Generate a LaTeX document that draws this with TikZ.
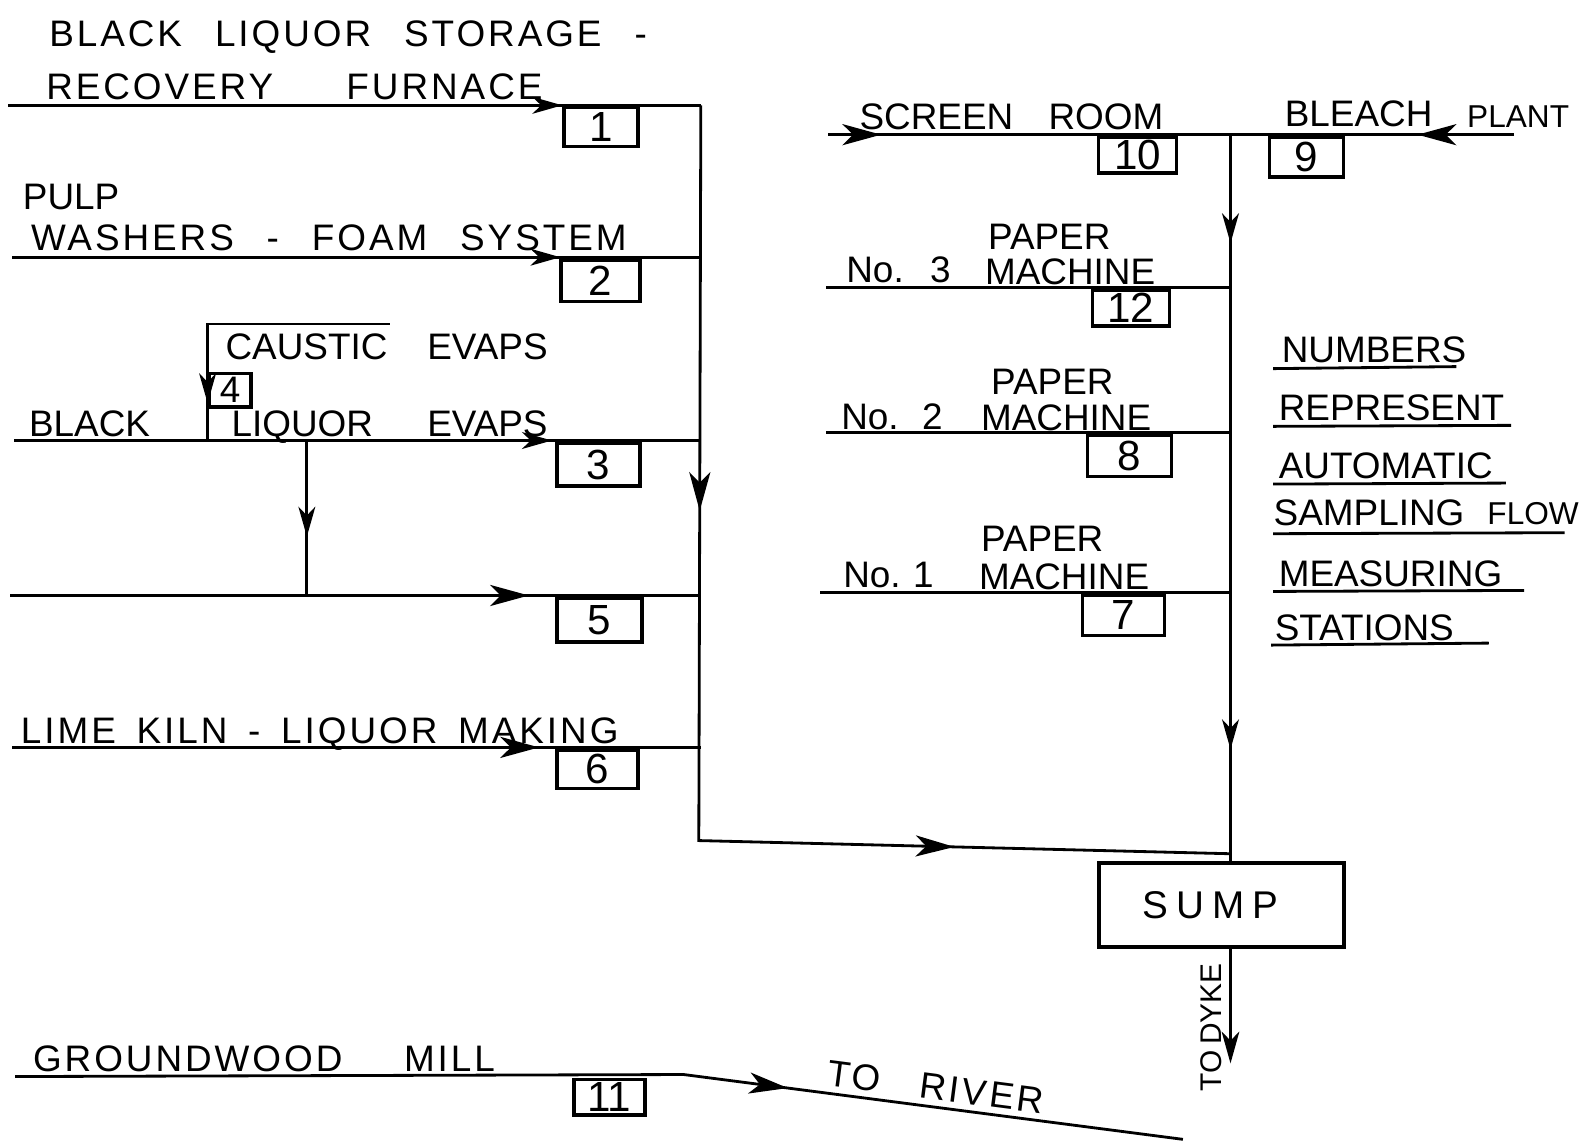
\documentclass[tikz,border=0pt]{standalone}
\usepackage{fontspec}
\setmainfont{Liberation Sans}
\usetikzlibrary{arrows.meta,decorations.markings}
\newlength\pxu
\setlength\pxu{0.010128cm}
\newcommand\wide{\addfontfeature{LetterSpace=8}}
\tikzset{
  flow/.style={line width=0.8pt},
  numbox/.style 2 args={draw, line width=1pt, anchor=north west, inner sep=0pt,
    minimum width=#1*\pxu, minimum height=#2*\pxu, font=\fontsize{12}{12}\selectfont},
  lbl/.style={anchor=base west, inner sep=0pt, font=\fontsize{10.5}{12}\selectfont},
  slbl/.style={anchor=base west, inner sep=0pt, font=\fontsize{9}{10}\selectfont},
  uline/.style={line width=0.8pt},
  ma/.style={postaction={decorate,decoration={markings,mark=at position #1 with {\arrow{Stealth[length=8.5pt,width=4.8pt,inset=2.5pt]}}}}},
  MA/.style={postaction={decorate,decoration={markings,mark=at position #1 with {\arrow{Stealth[length=11pt,width=6pt,inset=3pt]}}}}},
}
\begin{document}
\begin{tikzpicture}[x=0.010128cm, y=-0.010128cm]
\useasboundingbox (0,0) rectangle (1568,1131);

% ---------- coordinates ----------
\coordinate (a1) at (8,104);   \coordinate (j1) at (692,104);
\coordinate (a2) at (12,254);  \coordinate (j2) at (692,254);
\coordinate (a3) at (14,435);  \coordinate (j3) at (692,435);
\coordinate (a5) at (10,588);  \coordinate (j5) at (692,588);
\coordinate (a6) at (12,738);  \coordinate (j6) at (692,738);
\coordinate (c0) at (385,320); \coordinate (c1) at (205,320); \coordinate (c2) at (205,435);
\coordinate (v0) at (303,435); \coordinate (v1) at (303,588);
\coordinate (lb) at (690,830); \coordinate (rb) at (1215,843);
\coordinate (rt) at (1215,133); \coordinate (rs) at (1215,852);
\coordinate (sr) at (818,133); \coordinate (bp) at (1495,133);
\coordinate (m3a) at (816,284); \coordinate (m3b) at (1215,284);
\coordinate (m2a) at (816,427); \coordinate (m2b) at (1215,427);
\coordinate (m1a) at (810,585); \coordinate (m1b) at (1215,585);
\coordinate (g0) at (15,1063); \coordinate (g1) at (675,1061); \coordinate (g2) at (1168,1125);
\coordinate (dyke) at (1215,1050);

% ---------- sampling boxes ----------
\node (b1)  [numbox={73}{39}] at (555,104) {1};
\node (b2)  [numbox={78}{41}] at (552,255) {2};
\node (b3)  [numbox={82}{42}] at (548,436) {3};
\node (b4)  [numbox={41}{33}, font=\fontsize{10.5}{10.5}\selectfont] at (205,367) {4};
\node (b5)  [numbox={84}{43}] at (548,589) {5};
\node (b6)  [numbox={80}{38}] at (548,739) {6};
\node (b7)  [numbox={81}{40}] at (1067,586) {7};
\node (b8)  [numbox={83}{41}] at (1072,428) {8};
\node (b9)  [numbox={73}{39}] at (1252,134) {9};
\node (b10) [numbox={77}{35}] at (1083,134) {10};
\node (b11) [numbox={70}{35}] at (565,1064) {11};
\node (b12) [numbox={76}{35}] at (1077,285) {12};

% ---------- sump ----------
\node (sump) [draw, line width=1pt, minimum width=242*\pxu, minimum height=83*\pxu,
  font=\fontsize{11}{12}\selectfont] at (1206,893.5)
  {\hspace*{-22\pxu}\makebox[134\pxu][s]{S\hfill U\hfill M\hfill P}};

% ---------- flow lines ----------
\draw[flow, ma=0.80] (a1) -- (j1);
\draw[flow, ma=0.796] (a2) -- (j2);
\draw[flow, ma=0.783] (a3) -- (j3);
\draw[flow, MA=0.751] (a5) -- (j5);
\draw[flow, MA=0.765] (a6) -- (j6);
\draw[flow, ma=0.875] (c0) -- (c1) -- (c2);
\draw[flow, ma=0.62] (v0) -- (v1);
\draw[flow, MA=0.32, MA=0.782] (j1) -- (lb) -- (rb);
\draw[flow, ma=0.149, ma=0.844] (rt) -- (rs);
\draw[flow, MA=0.131] (sr) -- (rt);
\draw[flow, MA=0.34] (bp) -- (rt);
\draw[flow] (m3a) -- (m3b);
\draw[flow] (m2a) -- (m2b);
\draw[flow] (m1a) -- (m1b);
\draw[flow, -{Stealth[length=9pt,width=5pt,inset=2.5pt]}] (sump.south -| rs) -- (dyke);
\draw[flow, MA=0.66] (g0) -- (g1) -- (g2);

% ---------- labels ----------
\node (t1) [lbl] at (48,46) {\wide\makebox[590\pxu][s]{BLACK LIQUOR STORAGE -}};
\node (t2) [lbl] at (45,98) {\wide\makebox[490\pxu][s]{RECOVERY FURNACE}};
\node (t3) [lbl] at (22,207) {PULP};
\node (t4) [lbl] at (30,247) {\wide\makebox[588\pxu][s]{WASHERS - FOAM SYSTEM}};
\node (t5) [lbl] at (222,355) {\makebox[318\pxu][s]{CAUSTIC EVAPS}};
\node (t6) [lbl] at (28,431) {BLACK};
\node (t7) [lbl] at (228,431) {\makebox[312\pxu][s]{LIQUOR EVAPS}};
\node (t8) [lbl] at (20,734) {\wide\makebox[590\pxu][s]{LIME KILN - LIQUOR MAKING}};
\node (t9) [lbl] at (32,1058) {\wide\makebox[456\pxu][s]{GROUNDWOOD MILL}};
\node (t10) [lbl] at (848,128) {\makebox[300\pxu][s]{SCREEN ROOM}};
\node (t11) [lbl] at (1268,125) {BLEACH};
\node (t12) [slbl] at (1448,126) {PLANT};
\node (p3) [lbl] at (975,246) {PAPER};
\node (n3) [lbl] at (835,279) {\makebox[103\pxu][s]{No. 3}};
\node (q3) [lbl] at (972,281) {MACHINE};
\node (p2) [lbl] at (978,390) {PAPER};
\node (n2) [lbl] at (830,424) {\makebox[100\pxu][s]{No. 2}};
\node (q2) [lbl] at (968,425) {MACHINE};
\node (p1) [lbl] at (968,545) {PAPER};
\node (n1) [lbl] at (832,580) {\makebox[88\pxu][s]{No. 1}};
\node (q1) [lbl] at (966,582) {MACHINE};
\node (river) [lbl, rotate=-7.4] at (815,1072) {\wide\makebox[215\pxu][s]{TO RIVER}};
\node (tdyke) [inner sep=0pt, rotate=90, font=\fontsize{8.5}{9}\selectfont] at (1196,1016)
  {\makebox[123\pxu][s]{TO DYKE}};

% ---------- legend ----------
\node (k1) [lbl] at (1265,358) {NUMBERS};
\node (k2) [lbl] at (1262,415) {REPRESENT};
\node (k3) [lbl] at (1262,472) {AUTOMATIC};
\node (k4) [lbl] at (1257,519) {SAMPLING};
\node (k4b) [slbl] at (1468,518) {FLOW};
\node (k5) [lbl] at (1262,579) {MEASURING};
\node (k6) [lbl] at (1258,632) {STATIONS};
\draw[uline] (1257,364) -- (1438,362);
\draw[uline] (1257,421) -- (1492,420);
\draw[uline] (1257,478) -- (1487,477);
\draw[uline] (1257,527) -- (1545,526);
\draw[uline] (1257,584) -- (1505,583);
\draw[uline] (1255,637) -- (1470,635);
\end{tikzpicture}
\end{document}
